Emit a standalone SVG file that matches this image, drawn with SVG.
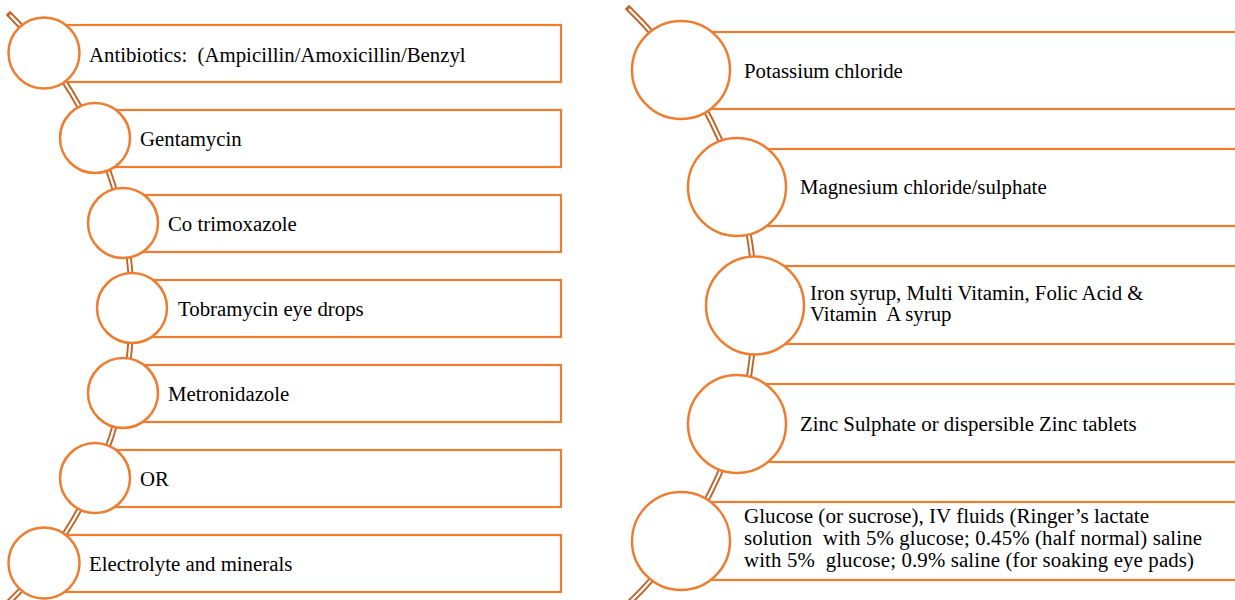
<svg xmlns="http://www.w3.org/2000/svg" width="1235" height="600" viewBox="0 0 1235 600">
<style>
.bar{fill:#fff;stroke:#ED7D31;stroke-width:2.2}
.dot{fill:#fff;stroke:#ED7D31;stroke-width:2.5}
.t{font-family:"Liberation Serif","Times New Roman",serif;font-size:20.8px;fill:#000;white-space:pre}
.arcO{fill:none;stroke:#C0652A;stroke-width:6;stroke-linecap:square}
.arcI{fill:none;stroke:#fff;stroke-width:2.2}
</style>
<rect width="1235" height="600" fill="#fff"/>
<g id="connectors">
<path class="arcO" d="M10,15 A413.3,413.3 0 0 1 6,605"/>
<path class="arcI" d="M10,15 A413.3,413.3 0 0 1 6,605"/>
<path class="arcO" d="M629,9 A413.3,413.3 0 0 1 627,605"/>
<path class="arcI" d="M629,9 A413.3,413.3 0 0 1 627,605"/>
</g>
<g id="n1"><rect class="bar" x="44" y="25" width="517" height="57"/><circle class="dot" cx="44" cy="53" r="35.5"/><text class="t" xml:space="preserve" x="89" y="61.5">Antibiotics:  (Ampicillin/Amoxicillin/Benzyl</text></g>
<g id="n2"><rect class="bar" x="95" y="110" width="466" height="57"/><circle class="dot" cx="95" cy="138" r="35"/><text class="t" x="140" y="146">Gentamycin</text></g>
<g id="n3"><rect class="bar" x="123" y="195" width="438" height="57"/><circle class="dot" cx="123" cy="223" r="35"/><text class="t" x="168" y="231">Co trimoxazole</text></g>
<g id="n4"><rect class="bar" x="132" y="280" width="429" height="57"/><circle class="dot" cx="132" cy="308" r="35"/><text class="t" x="178" y="316">Tobramycin eye drops</text></g>
<g id="n5"><rect class="bar" x="123" y="365" width="438" height="57"/><circle class="dot" cx="123" cy="393" r="35"/><text class="t" x="168" y="401">Metronidazole</text></g>
<g id="n6"><rect class="bar" x="95" y="450" width="466" height="57"/><circle class="dot" cx="95" cy="478" r="35"/><text class="t" x="140" y="486">OR</text></g>
<g id="n7"><rect class="bar" x="44" y="535" width="517" height="57"/><circle class="dot" cx="44" cy="563" r="35.5"/><text class="t" x="89" y="571">Electrolyte and minerals</text></g>
<g id="n8"><rect class="bar" x="681" y="32" width="570" height="77"/><circle class="dot" cx="681" cy="70" r="49"/><text class="t" x="744" y="78">Potassium chloride</text></g>
<g id="n9"><rect class="bar" x="737" y="149" width="510" height="77"/><circle class="dot" cx="737" cy="187" r="49"/><text class="t" x="800" y="194">Magnesium chloride/sulphate</text></g>
<g id="n10"><rect class="bar" x="755" y="266" width="490" height="78"/><circle class="dot" cx="755" cy="305.5" r="49"/><text class="t" x="810" y="300">Iron syrup, Multi Vitamin, Folic Acid &amp;</text><text class="t" xml:space="preserve" x="810" y="321">Vitamin  A syrup</text></g>
<g id="n11"><rect class="bar" x="737" y="384" width="510" height="78"/><circle class="dot" cx="737" cy="424" r="49"/><text class="t" x="800" y="431">Zinc Sulphate or dispersible Zinc tablets</text></g>
<g id="n12"><rect class="bar" x="681" y="502" width="570" height="78"/><circle class="dot" cx="681" cy="541" r="49"/><text class="t" x="744" y="523" textLength="405" lengthAdjust="spacingAndGlyphs">Glucose (or sucrose), IV fluids (Ringer’s lactate</text><text class="t" xml:space="preserve" x="744" y="545" textLength="458" lengthAdjust="spacing">solution  with 5% glucose; 0.45% (half normal) saline</text><text class="t" xml:space="preserve" x="744" y="566.5" textLength="450" lengthAdjust="spacing">with 5%  glucose; 0.9% saline (for soaking eye pads)</text></g>
</svg>
